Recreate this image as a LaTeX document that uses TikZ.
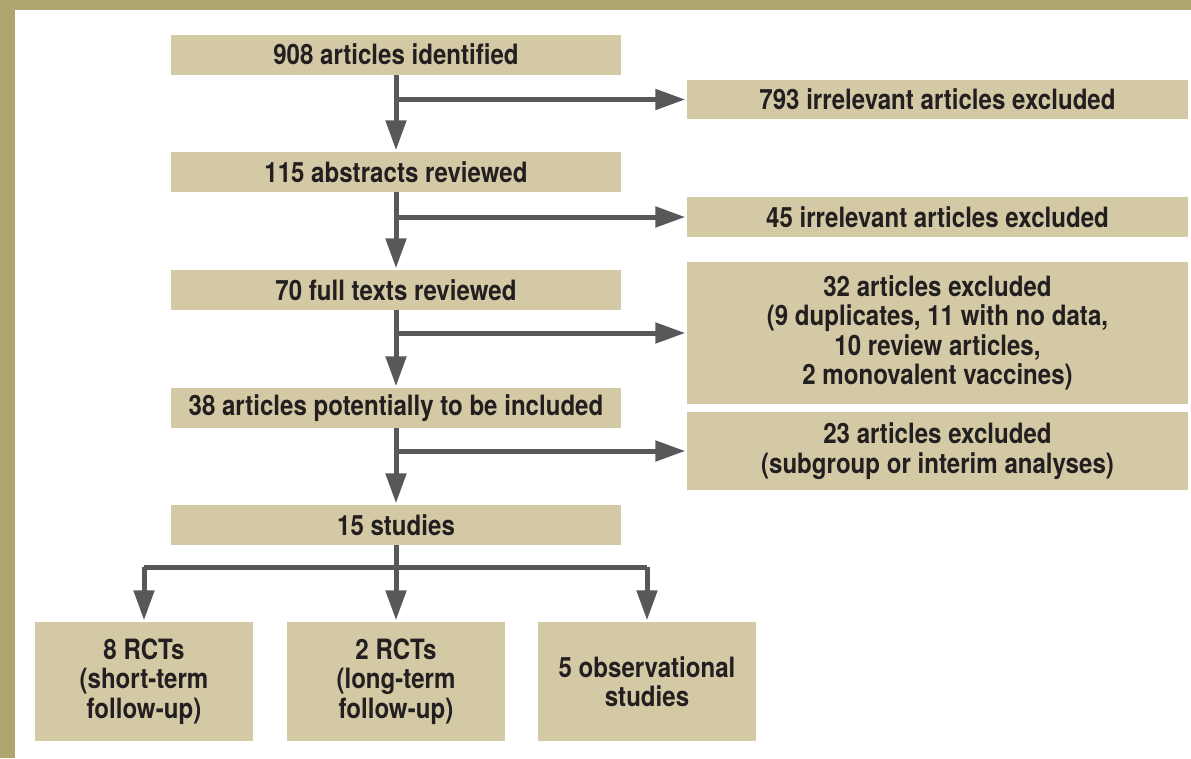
\documentclass[tikz,border=0pt]{standalone}
\usepackage{fontspec}
\setmainfont{TeX Gyre Heros}[FakeStretch=0.86]
\usetikzlibrary{arrows.meta}
\definecolor{boxfill}{HTML}{D3C9A5}
\definecolor{frame}{HTML}{B1A56F}
\definecolor{linegray}{HTML}{58585A}
\definecolor{txt}{HTML}{231F20}
\tikzset{
  box/.style={fill=boxfill, draw=none, inner sep=0pt, align=center, text=txt,
    font=\fontsize{28}{29.5}\selectfont\bfseries},
  wide/.style={box, minimum width=450pt, minimum height=40pt},
  excl/.style={box, minimum width=501pt},
  leaf/.style={box, minimum width=218pt, minimum height=119pt},
  arr/.style={draw=linegray, line width=5pt, -{Triangle[length=30pt,width=20pt]}, shorten >=1.5pt},
  ln/.style={draw=linegray, line width=5pt}
}
\begin{document}
\begin{tikzpicture}[x=1pt,y=-1pt]
\useasboundingbox (0,0) rectangle (1191,758);
\fill[frame] (0,0) rectangle (1191,10);
\fill[frame] (0,0) rectangle (15,758);
\node[wide] (b1) at (396,54.5) {908 articles identified};
\node[excl, minimum height=39pt] (e1) at (937.5,99.5) {793 irrelevant articles excluded};
\node[wide] (b2) at (396,172) {115 abstracts reviewed};
\node[excl, minimum height=40pt] (e2) at (937.5,217) {45 irrelevant articles excluded};
\node[wide] (b3) at (396,290) {70 full texts reviewed};
\node[excl, minimum height=142pt] (e3) at (937.5,333) {32 articles excluded\\(9 duplicates, 11 with no data,\\10 review articles,\\2 monovalent vaccines)};
\node[wide] (b4) at (396,408) {38 articles potentially to be included};
\node[excl, minimum height=78pt] (e4) at (937.5,451) {23 articles excluded\\(subgroup or interim analyses)};
\node[wide] (b5) at (396,525) {15 studies};
\node[leaf] (r1) at (144,681.5) {8 RCTs\\(short-term\\follow-up)};
\node[leaf] (r2) at (396,681.5) {2 RCTs\\(long-term\\follow-up)};
\node[leaf] (r3) at (647,681.5) {5 observational\\studies};
\draw[arr] (b1.south) -- (b2.north);
\draw[arr] (b1.south |- e1.west) -- (e1.west);
\draw[arr] (b2.south) -- (b3.north);
\draw[arr] (b2.south |- e2.west) -- (e2.west);
\draw[arr] (b3.south) -- (b4.north);
\draw[arr] (b3.south |- e3.west) -- (e3.west);
\draw[arr] (b4.south) -- (b5.north);
\draw[arr] (b4.south |- e4.west) -- (e4.west);
\coordinate (split) at (396,567);
\draw[arr] (b5.south) -- (r2.north);
\draw[ln] (r1.north |- split) -- (r3.north |- split);
\draw[arr] (r1.north |- split) -- (r1.north);
\draw[arr] (r3.north |- split) -- (r3.north);
\end{tikzpicture}
\end{document}
